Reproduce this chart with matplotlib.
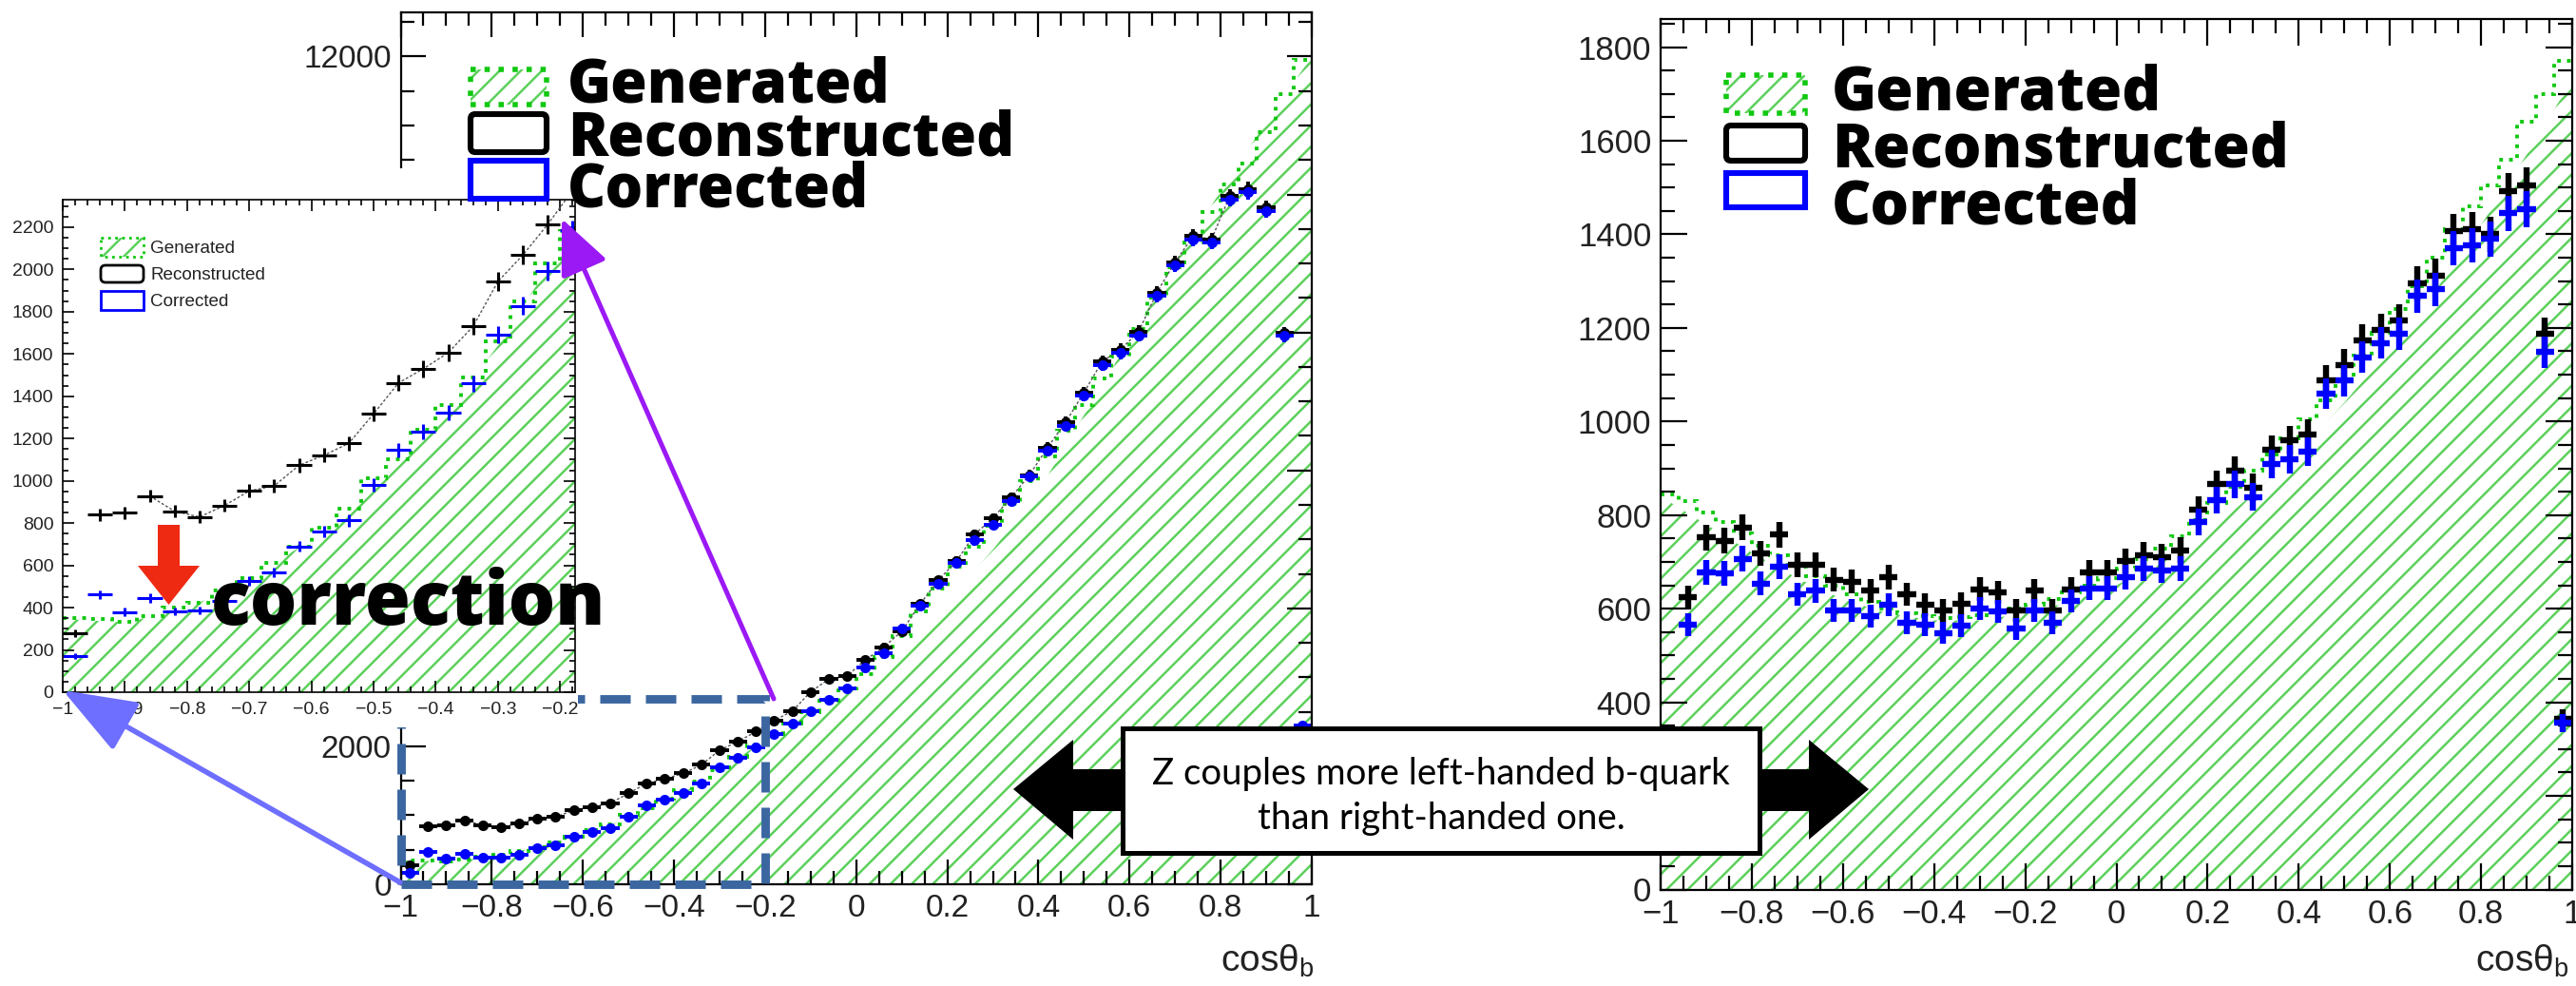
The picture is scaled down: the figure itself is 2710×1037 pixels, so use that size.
import matplotlib
matplotlib.use("Agg")
import matplotlib.pyplot as plt
import numpy as np
from matplotlib.patches import FancyArrowPatch, FancyBboxPatch, Polygon, Rectangle
from matplotlib.ticker import FuncFormatter, MultipleLocator

W, H, DPI = 2710, 1037, 200

GREEN = "#10c810"
HATCH = "#5cd05c"
BLUE = "#0000ff"

# 50 bins of width 0.04 on cos(theta_b) in [-1, 1]
edges = np.linspace(-1.0, 1.0, 51)
centers = 0.5 * (edges[:-1] + edges[1:])
fill_x = np.linspace(-1.0, 1.0, 21)

# left panel (the inset is a zoom of the same histograms)
left_gen = [350, 345, 335, 360, 400, 425, 480, 540, 610, 690,
            780, 870, 1010, 1100, 1240, 1360, 1490, 1660, 1850, 2030,
            2180, 2330, 2500, 2660, 2840, 3050, 3300, 3600, 3950, 4280,
            4600, 4900, 5200, 5520, 5850, 6200, 6580, 6950, 7330, 7650,
            8050, 8500, 8950, 9300, 9750, 10150, 10450, 10900, 11450, 11950]
left_rec = [278, 840, 848, 928, 856, 829, 883, 952, 976, 1073,
            1121, 1177, 1317, 1463, 1530, 1606, 1731, 1943, 2068, 2213,
            2374, 2512, 2790, 2975, 3021, 3252, 3436, 3667, 4060, 4406,
            4683, 5075, 5307, 5607, 5930, 6330, 6700, 7130, 7580, 7750,
            8010, 8580, 9020, 9400, 9350, 9980, 10080, 9810, 7990, 2200]
left_cor = [170, 462, 379, 446, 382, 387, 430, 527, 567, 690,
            760, 813, 980, 1145, 1233, 1322, 1461, 1691, 1827, 1991,
            2184, 2330, 2510, 2674, 2836, 3140, 3344, 3713, 4036, 4360,
            4660, 4984, 5214, 5560, 5920, 6290, 6650, 7080, 7530, 7700,
            7960, 8530, 8970, 9350, 9300, 9930, 10030, 9760, 7950, 2300]
left_gen_fill = [347, 330, 395, 540, 720, 960, 1250, 1640, 2100, 2520,
                 2850, 3400, 4100, 4850, 5700, 6800, 7900, 9000, 10050, 11050, 12000]

# right panel
right_gen = [845, 830, 805, 785, 760, 735, 715, 690, 670, 650,
             630, 615, 600, 590, 585, 580, 582, 587, 592, 600,
             608, 620, 635, 650, 665, 685, 705, 728, 755, 790,
             825, 860, 895, 930, 965, 1005, 1045, 1090, 1140, 1190,
             1240, 1290, 1350, 1410, 1460, 1505, 1560, 1640, 1700, 1770]
right_rec = [np.nan, 624, 752, 745, 774, 718, 758, 694, 694, 662,
             658, 638, 667, 631, 608, 597, 611, 642, 635, 597,
             638, 597, 642, 678, 678, 701, 715, 711, 725, 812,
             866, 895, 859, 940, 960, 973, 1087, 1121, 1174, 1195,
             1215, 1295, 1311, 1406, 1410, 1400, 1492, 1505, 1188, 365]
right_cor = [np.nan, 566, 678, 675, 707, 654, 689, 631, 638, 597,
             597, 584, 608, 570, 566, 548, 564, 600, 595, 557,
             597, 570, 617, 644, 644, 667, 685, 681, 685, 785,
             832, 866, 839, 909, 919, 936, 1060, 1087, 1137, 1168,
             1188, 1268, 1282, 1370, 1376, 1390, 1445, 1454, 1148, 356]
right_gen_fill = [840, 780, 720, 665, 620, 590, 575, 575, 590, 615,
                  650, 700, 765, 845, 935, 1040, 1155, 1280, 1420, 1570, 1730]

legend_labels = ["Generated", "Reconstructed", "Corrected"]
note_lines = ["Z couples more left-handed b-quark", "than right-handed one."]

plt.rcParams["font.family"] = ["Liberation Sans", "DejaVu Sans"]
plt.rcParams["hatch.linewidth"] = 0.9
plt.rcParams["hatch.color"] = HATCH
HEAVY = ["Open Sans", "Lato", "DejaVu Sans"]


def px_rect(x0, y0, x1, y1):
    return [x0 / W, 1 - y1 / H, (x1 - x0) / W, (y1 - y0) / H]


def tick_fmt(v, _pos):
    v = round(v, 6)
    if v == 0:
        v = 0.0
    return f"{v:g}".replace("-", "\u2212")


def style_axes(ax, xstep, xminor, ystep, yminor, size, maj_len, min_len, width):
    ax.xaxis.set_major_locator(MultipleLocator(xstep))
    ax.xaxis.set_minor_locator(MultipleLocator(xminor))
    ax.yaxis.set_major_locator(MultipleLocator(ystep))
    ax.yaxis.set_minor_locator(MultipleLocator(yminor))
    ax.xaxis.set_major_formatter(FuncFormatter(tick_fmt))
    ax.tick_params(which="both", direction="in", top=True, right=True,
                   width=width, labelsize=size, labelcolor="#222")
    ax.tick_params(which="major", length=maj_len)
    ax.tick_params(which="minor", length=min_len)
    for sp in ax.spines.values():
        sp.set_linewidth(width)


def draw_panel(ax, gen, gen_fill, rec, cor, err_lw, ms, fit=False):
    rec = np.asarray(rec, dtype=float)
    cor = np.asarray(cor, dtype=float)
    ax.fill_between(fill_x, gen_fill, 0, facecolor="none", edgecolor=HATCH,
                    hatch="///", linewidth=0)
    ax.stairs(gen, edges, baseline=None, color=GREEN, linestyle=":", linewidth=1.4)
    if fit:
        ax.plot(centers[3:46], rec[3:46], color="#555", lw=0.5, ls=(0, (2, 1.5)))
    for vals, col in ((rec, "black"), (cor, BLUE)):
        ax.errorbar(centers, vals, xerr=0.02, yerr=np.sqrt(vals),
                    fmt="o" if ms else "none", ms=ms, color=col, ecolor=col,
                    elinewidth=err_lw, capsize=0)


def legend_boxes(ov, x0, x1, boxes, lw, dot_lw):
    (g0, g1), (k0, k1), (b0, b1) = boxes
    ov.add_patch(Rectangle((x0, g0), x1 - x0, g1 - g0, facecolor="white",
                           edgecolor=HATCH, hatch="///", linewidth=0))
    ov.add_patch(Rectangle((x0, g0), x1 - x0, g1 - g0, facecolor="none",
                           edgecolor=GREEN, linestyle=":", linewidth=dot_lw))
    ov.add_patch(FancyBboxPatch((x0, k0), x1 - x0, k1 - k0,
                                boxstyle="round,pad=0,rounding_size=5",
                                facecolor="white", edgecolor="black", linewidth=lw))
    ov.add_patch(Rectangle((x0, b0), x1 - x0, b1 - b0, facecolor="white",
                           edgecolor=BLUE, linewidth=lw))


fig = plt.figure(figsize=(W / DPI, H / DPI), dpi=DPI)

# ---- left main panel
ax_l = fig.add_axes(px_rect(421.5, 13, 1380, 930))
draw_panel(ax_l, left_gen, left_gen_fill, left_rec, left_cor, err_lw=1.4, ms=3.0, fit=True)
ax_l.set_xlim(-1, 1)
ax_l.set_ylim(0, 12640)
style_axes(ax_l, 0.2, 0.05, 2000, 500, 12, 9.5, 5, 0.8)
ax_l.add_patch(Rectangle((-1, 0), 0.8, 2690, fill=False, edgecolor="#3b66a0",
                         linewidth=3.2, linestyle=(0, (3.6, 1.8)), clip_on=False, zorder=5))

# ---- right panel
ax_r = fig.add_axes(px_rect(1747, 20, 2706, 935.5))
draw_panel(ax_r, right_gen, right_gen_fill, right_rec, right_cor, err_lw=2.3, ms=0)
ax_r.set_xlim(-1, 1)
ax_r.set_ylim(0, 1860)
style_axes(ax_r, 0.2, 0.05, 200, 50, 12.5, 10, 5.5, 0.8)

# ---- white background of the pasted inset picture
bg = fig.add_axes([0, 0, 1, 1], zorder=1)
bg.set_xlim(0, W)
bg.set_ylim(H, 0)
bg.axis("off")
bg.patch.set_visible(False)
bg.add_patch(Rectangle((0, 177), 608, 588, facecolor="white", edgecolor="none"))

# ---- inset (zoom of the left panel)
ax_i = fig.add_axes(px_rect(66, 210, 605, 728), zorder=2)
ax_i.set_facecolor("white")
draw_panel(ax_i, left_gen, left_gen_fill, left_rec, left_cor, err_lw=1.1, ms=0, fit=True)
ax_i.set_xlim(-1, -0.176)
ax_i.set_ylim(0, 2330)
style_axes(ax_i, 0.1, 0.02, 200, 50, 7, 4.3, 2.2, 0.6)

# ---- overlay for annotations
ov = fig.add_axes([0, 0, 1, 1], zorder=3)
ov.set_xlim(0, W)
ov.set_ylim(H, 0)
ov.axis("off")
ov.patch.set_visible(False)

# inset legend
legend_boxes(ov, 106, 151, [(250, 270), (279, 297), (306, 326)], 1.0, 1.0)
for lab, yb in zip(legend_labels, [266, 294, 322]):
    ov.text(158, yb, lab, fontsize=6.8, color="#222", va="baseline", ha="left")

# main legend
legend_boxes(ov, 495, 575, [(73, 110), (120, 160), (169, 209)], 2.2, 2.0)
for lab, yb in zip(legend_labels, [107, 163, 218]):
    ov.text(597, yb, lab, fontsize=22.5, fontweight=800, family=HEAVY,
            va="baseline", ha="left")

# right legend
legend_boxes(ov, 1816, 1899, [(79, 119), (132, 169), (182, 218)], 2.2, 2.0)
for lab, yb in zip(legend_labels, [116, 175, 235]):
    ov.text(1927, yb, lab, fontsize=23, fontweight=800, family=HEAVY,
            va="baseline", ha="left")

# arrows linking the zoom region and the inset
ov.add_patch(FancyArrowPatch((814, 735), (591, 230), arrowstyle="-|>,head_length=18,head_width=8",
                             color="#9b19f5", linewidth=1.8, shrinkA=0, shrinkB=0))
ov.add_patch(FancyArrowPatch((421, 928), (66, 726), arrowstyle="-|>,head_length=24,head_width=9",
                             color="#6e6eff", linewidth=2.0, shrinkA=0, shrinkB=0))

# red correction arrow + label
ov.add_patch(Polygon([(166, 552), (189, 552), (189, 595), (210, 595), (177.5, 636),
                      (145, 595), (166, 595)], closed=True, facecolor="#ee2a12", edgecolor="none"))
ov.text(222, 657, "correction", fontsize=28, fontweight=800, family=HEAVY,
        va="baseline", ha="left")

# double arrow and note box
ov.add_patch(Polygon([(1066, 830), (1129, 778), (1129, 809), (1185, 809), (1185, 853),
                      (1129, 853), (1129, 883)], closed=True, facecolor="black"))
ov.add_patch(Polygon([(1966, 830), (1903, 778), (1903, 809), (1847, 809), (1847, 853),
                      (1903, 853), (1903, 883)], closed=True, facecolor="black"))
ov.add_patch(Rectangle((1181, 766), 670, 131, facecolor="white", edgecolor="black", linewidth=1.8))
ov.text(1516, 825, note_lines[0], fontsize=13.8, family=["Lato", "DejaVu Sans"],
        ha="center", va="baseline")
ov.text(1516, 872, note_lines[1], fontsize=13.8, family=["Lato", "DejaVu Sans"],
        ha="center", va="baseline")

# axis titles
for xr in (1382, 2702):
    ov.text(xr, 1022, "cos\u03b8$_\\mathregular{b}$", fontsize=14, color="#222",
            ha="right", va="baseline")

fig.savefig("out.png", dpi=DPI)
